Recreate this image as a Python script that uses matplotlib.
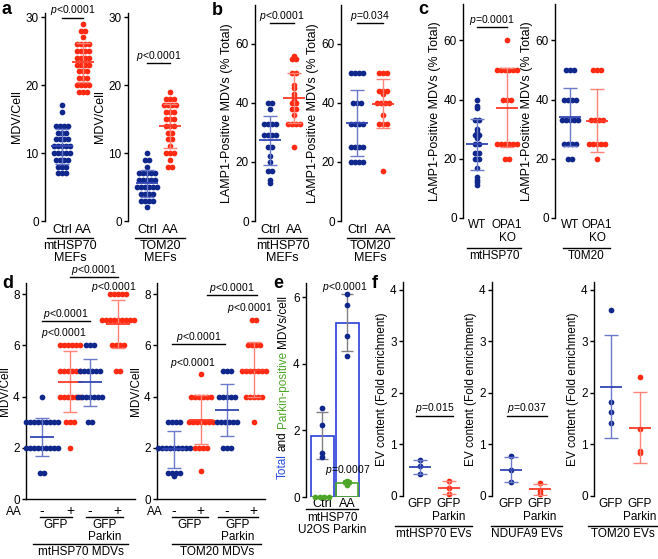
import matplotlib
matplotlib.use('Agg')
import matplotlib.pyplot as plt
import numpy as np
from matplotlib.transforms import offset_copy

plt.rcParams['font.family'] = ['Liberation Sans', 'DejaVu Sans']
plt.rcParams['font.size'] = 8
plt.rcParams['mathtext.fontset'] = 'custom'
plt.rcParams['mathtext.rm'] = 'Liberation Sans'
plt.rcParams['mathtext.it'] = 'Liberation Sans:italic'
plt.rcParams['axes.linewidth'] = 1.0

# ---- data ----
# a: MDV/Cell
a1_ctrl = [7, 7, 7, 8, 8, 8, 9, 9, 9, 9, 10, 10, 10, 10, 10, 11, 11, 11, 11, 11,
           12, 12, 12, 12, 13, 13, 13, 14, 14, 14, 14, 16, 17]
a1_aa = [19, 19, 19, 20, 20, 20, 20, 21, 21, 21, 22, 22, 22, 23, 23, 23, 23, 24, 24,
         24, 24, 25, 25, 25, 25, 26, 26, 26, 26, 27, 28, 28, 29]
a2_ctrl = [2, 3, 3, 3, 3, 4, 4, 4, 4, 5, 5, 5, 5, 5, 5, 6, 6, 6, 6, 6, 7, 7, 7, 7, 7,
           8, 9, 9, 10]
a2_aa = [8, 8, 9, 10, 10, 10, 11, 12, 12, 13, 13, 14, 14, 14, 15, 15, 15, 16, 16, 16,
         17, 17, 17, 17, 18, 18, 18, 19]
# b: LAMP1-positive MDVs (% total)
b1_ctrl = [13, 14, 17, 17, 20, 22, 25, 25, 29, 29, 29, 29, 33, 33, 33, 33, 38, 40, 40]
b1_aa = [25, 33, 33, 33, 33, 36, 38, 38, 40, 40, 41, 42, 43, 45, 46, 50, 50, 55, 55, 56]
b2_ctrl = [20, 20, 20, 20, 25, 25, 25, 25, 33, 33, 33, 33, 40, 40, 40, 50, 50, 50, 50]
b2_aa = [17, 33, 33, 33, 36, 40, 40, 40, 40, 43, 44, 44, 44, 50, 50, 50]
# c: WT vs OPA1 KO
c1_wt = [11, 12, 13, 14, 17, 20, 20, 22, 22, 25, 25, 27, 28, 28, 29, 30, 33, 33, 37, 38, 40]
c1_ko = [20, 20, 25, 25, 25, 25, 25, 25, 40, 40, 40, 50, 50, 50, 50, 50, 50, 60]
c2_wt = [20, 20, 25, 25, 25, 25, 33, 33, 33, 33, 33, 40, 40, 40, 40, 50, 50, 50]
c2_ko = [20, 25, 25, 25, 25, 25, 33, 33, 33, 33, 50, 50, 50]
# d: GFP / GFP Parkin, -AA / +AA
d1_groups = [
    [1, 1, 2, 2, 2, 2, 2, 2, 2, 2, 2, 3, 3, 3, 3, 3, 3, 3, 3, 3, 4],
    [2, 3, 3, 3, 4, 4, 4, 4, 4, 4, 5, 5, 5, 5, 5, 5, 6, 6, 6, 6, 6, 6],
    [3, 3, 4, 4, 4, 4, 4, 4, 4, 5, 5, 5, 5, 5, 5, 6, 6, 6],
    [5, 5, 6, 6, 6, 6, 7, 7, 7, 7, 7, 7, 7, 7, 7, 8, 8, 8, 8, 8],
]
d2_groups = [
    [0.9, 1, 1, 1, 1, 2, 2, 2, 2, 2, 2, 2, 2, 2, 3, 3, 3, 3],
    [1.1, 2, 2, 2, 2, 3, 3, 3, 3, 3, 3, 3, 4, 4, 4, 4, 4, 4, 4.9],
    [2, 2, 2, 3, 3, 3, 3, 3, 3, 4, 4, 4, 4, 4, 5, 5, 5],
    [3, 4, 4, 4, 4, 4, 5, 5, 5, 5, 5, 5, 5, 6, 6, 6, 6, 7, 7],
]
d_ticks = ['-', '+', '-', '+']
# e: total and Parkin-positive MDVs/cell
e_labels = ['Ctrl', 'AA']
e_total = [[2.68, 2.15, 1.33, 1.21], [6.09, 5.76, 4.83, 4.23]]
e_parkin = [[0, 0, 0, 0], [0.37, 0.45, 0.47, 0.45]]
# f: EV content (fold enrichment)
f_labels = ['GFP', 'GFP\nParkin']
f1_gfp, f1_park = [0.43, 0.58, 0.7], [0.04, 0.15, 0.3]
f2_gfp, f2_park = [0.27, 0.5, 0.77], [0.03, 0.1, 0.25]
f3_gfp, f3_park = [1.42, 1.62, 1.83, 3.6], [0.83, 0.87, 1.3, 2.3]

W, H = 658, 559
BLUE, RED = '#10288c', '#ff2a12'
BLUE_M, RED_M = '#3345b4', '#ff3a28'
BLUE_SD, RED_SD = '#6c7acb', '#ff8478'
GREEN = '#4da628'
LAB = 9      # category / group labels
PFS = 7.5    # p-values

fig = plt.figure(figsize=(W / 100, H / 100), dpi=100)


def make_ax(spine, first, step, right, top, bottom, ymax, yticks, xaxis=False):
    ax = fig.add_axes([spine / W, 1 - bottom / H, (right - spine) / W, (bottom - top) / H])
    ax.set_xlim((spine - first) / step, (right - first) / step)
    ax.set_ylim(0, ymax)
    ax.set_yticks(yticks)
    ax.spines['top'].set_visible(False)
    ax.spines['right'].set_visible(False)
    ax.spines['bottom'].set_visible(xaxis)
    ax.tick_params(axis='y', length=3, width=1, pad=1.5, labelsize=8.5)
    ax.tick_params(axis='x', length=0, labelsize=LAB)
    ax.patch.set_alpha(0)
    ax._px = step
    return ax


def swarm(ax, x0, vals, color, dx=4.0):
    vals = np.asarray(vals, float)
    xs = np.full(len(vals), float(x0))
    for v in np.unique(vals):
        idx = np.flatnonzero(vals == v)
        xs[idx] += (np.arange(len(idx)) - (len(idx) - 1) / 2) * dx / ax._px
    ax.scatter(xs, vals, s=17, color=color, lw=0, zorder=3, clip_on=False)


def meansd(ax, x0, vals, mcol, sdcol, half=11, cap=7):
    m, sd = np.mean(vals), np.std(vals, ddof=1)
    w, c = half / ax._px, cap / ax._px
    ax.vlines(x0, m - sd, m + sd, color=sdcol, lw=1, zorder=4)
    ax.hlines([m - sd, m + sd], x0 - c, x0 + c, color=sdcol, lw=1, zorder=4)
    ax.hlines(m, x0 - w, x0 + w, color=mcol, lw=1.3, zorder=5)


def pair(ax, a, b, pos=(0, 1)):
    swarm(ax, pos[0], a, BLUE)
    swarm(ax, pos[1], b, RED)
    meansd(ax, pos[0], a, BLUE_M, BLUE_SD)
    meansd(ax, pos[1], b, RED_M, RED_SD)


def pbar(ax, x0, x1, y, txt):
    ax.plot([x0, x1], [y, y], color='k', lw=1, clip_on=False)
    ax.annotate(txt, ((x0 + x1) / 2, y), xytext=(0, 0.3), textcoords='offset points',
                ha='center', va='bottom', fontsize=PFS, annotation_clip=False)


def ptxt(ax, x, y, txt):
    ax.text(x, y, txt, ha='center', va='center', fontsize=PFS, clip_on=False)


def under(ax, x0, x1, dy, label=None, ly=None, size=LAB):
    tr = offset_copy(ax.get_xaxis_transform(), fig=fig, y=-dy, units='dots')
    ax.plot([x0, x1], [0, 0], transform=tr, color='k', lw=1, clip_on=False)
    if label:
        tr2 = offset_copy(ax.get_xaxis_transform(), fig=fig, y=-ly, units='dots')
        ax.text((x0 + x1) / 2, 0, label, transform=tr2, ha='center', va='top',
                linespacing=1.05, fontsize=size)


def ylab(ax, txt, size=9):
    ax.set_ylabel(txt, fontsize=size, labelpad=1.5)


def letter(ch, x, y):
    fig.text(x / W, 1 - y / H, ch, fontsize=13, fontweight='bold', va='baseline')


P4 = '$p$<0.0001'

# ---- panel a ----
a1 = make_ax(45, 62, 21, 97, 13, 221, 30.6, [0, 10, 20, 30])
a2 = make_ax(128, 147, 23, 182, 13, 221, 30.6, [0, 10, 20, 30])
for ax, (c, t), grp, lx in [(a1, (a1_ctrl, a1_aa), 'mtHSP70\nMEFs', (-0.71, 1.48)),
                            (a2, (a2_ctrl, a2_aa), 'TOM20\nMEFs', (-0.52, 1.65))]:
    pair(ax, c, t)
    ax.set_xticks([0, 1], ['Ctrl', 'AA'])
    ax.tick_params(axis='x', pad=2)
    under(ax, lx[0], lx[1], 17, grp, 19)
    ylab(ax, 'MDV/Cell')
pbar(a1, 0, 1, 29.9, P4)
pbar(a2, 0, 1, 23.2, P4)

# ---- panel b ----
b1 = make_ax(255, 270, 24, 308, 5, 221, 73.2, [0, 20, 40, 60])
b2 = make_ax(341, 357, 26, 398, 5, 221, 73.2, [0, 20, 40, 60])
for ax, (c, t), grp, lx in [(b1, (b1_ctrl, b1_aa), 'mtHSP70\nMEFs', (-0.5, 1.54)),
                            (b2, (b2_ctrl, b2_aa), 'TOM20\nMEFs', (-0.38, 1.42))]:
    pair(ax, c, t)
    ax.set_xticks([0, 1], ['Ctrl', 'AA'])
    ax.tick_params(axis='x', pad=2)
    under(ax, lx[0], lx[1], 17, grp, 19)
    ylab(ax, 'LAMP1-Positive MDVs (% Total)')
pbar(b1, 0, 1, 67, P4)
pbar(b2, 0, 1, 67, '$p$=0.034')

# ---- panel c ----
c1 = make_ax(463, 477, 30, 522, 4, 218, 72.3, [0, 20, 40, 60])
c2 = make_ax(555, 570, 27, 614, 4, 218, 72.3, [0, 20, 40, 60])
for ax, (w, k), grp, lx in [(c1, (c1_wt, c1_ko), 'mtHSP70', (-0.33, 1.47)),
                            (c2, (c2_wt, c2_ko), 'T0M20', (-0.26, 1.48))]:
    pair(ax, w, k)
    ax.set_xticks([0, 1], ['WT', 'OPA1\nKO'])
    ax.tick_params(axis='x', pad=1, labelsize=8.5)
    for lbl in ax.get_xticklabels():
        lbl.set_linespacing(1.05)
    under(ax, lx[0], lx[1], 30, grp, 32, size=8.5)
    ylab(ax, 'LAMP1-Positive MDVs (% Total)')
pbar(c1, 0, 1, 64.4, '$p$=0.0001')

# ---- panel d ----
d1 = make_ax(26, 42, 28, 135, 283, 499, 8.44, [0, 2, 4, 6, 8], xaxis=True)
d2 = make_ax(157, 174, 26.5, 265, 283, 499, 8.44, [0, 2, 4, 6, 8], xaxis=True)
d1_pos = [0, 1, 1.7, 2.7]
d2_pos = [0, 1, 2, 3]
for ax, groups, pos in [(d1, d1_groups, d1_pos), (d2, d2_groups, d2_pos)]:
    for i, vals in enumerate(groups):
        col = BLUE if i % 2 == 0 else RED
        swarm(ax, pos[i], vals, col)
        if i % 2 == 0:
            meansd(ax, pos[i], vals, BLUE_M, BLUE_SD, half=12)
        else:
            meansd(ax, pos[i], vals, RED_M, RED_SD, half=12)
    ax.set_xticks(pos, d_ticks)
    ax.tick_params(axis='x', pad=3.5, labelsize=10)
    ylab(ax, 'MDV/Cell', 8.5)
under(d1, -0.07, 1.07, 18, 'GFP', 20, 8.5)
under(d1, 1.57, 2.89, 18, 'GFP\nParkin', 20, 8.5)
under(d1, -0.32, 3.07, 45, 'mtHSP70 MDVs', 47, 8.5)
under(d2, -0.09, 1.28, 18, 'GFP', 20, 8.5)
under(d2, 1.66, 3.17, 18, 'GFP\nParkin', 20, 8.5)
under(d2, -0.08, 3.3, 45, 'TOM20 MDVs', 47, 8.5)
for ax, xa in [(d1, -0.72), (d2, -0.42)]:
    tr = offset_copy(ax.get_xaxis_transform(), fig=fig, y=-7, units='dots')
    ax.text(xa, 0, 'AA', transform=tr, ha='right', va='top', fontsize=8.5)
pbar(d1, 1, 2.7, 8.67, P4)
ptxt(d1, 2.55, 8.28, P4)
pbar(d1, 0, 1.7, 6.95, P4)
ptxt(d1, 0.79, 6.48, P4)
pbar(d2, 1.25, 3.13, 7.97, P4)
ptxt(d2, 2.87, 7.46, P4)
pbar(d2, -0.08, 1.92, 6.05, P4)
ptxt(d2, 0.72, 5.31, P4)

# ---- panel e ----
e = make_ax(306, 322, 25, 365, 283, 497, 6.42, [0, 2, 4, 6])
xs = np.arange(len(e_labels))
tot_m = [np.mean(v) for v in e_total]
tot_sd = [np.std(v, ddof=1) for v in e_total]
par_m = [np.mean(v) for v in e_parkin]
par_sd = [np.std(v, ddof=1) for v in e_parkin]
e.bar(xs, tot_m, width=0.92, fill=False, edgecolor='#2a3ed8', lw=1.2, zorder=2)
e.bar(xs, par_m, width=0.85, fill=False, edgecolor=GREEN, lw=1.2, zorder=2)
e.errorbar(xs, tot_m, yerr=tot_sd, fmt='none', ecolor='#808080', elinewidth=1,
           capsize=4, capthick=1, zorder=3)
e.errorbar(xs[1:], par_m[1:], yerr=par_sd[1:], fmt='none', ecolor='#808080',
           elinewidth=1, capsize=3, capthick=1, zorder=3)
for i in xs:
    swarm(e, i, e_total[i], BLUE)
    swarm(e, i, e_parkin[i], GREEN, dx=4.5)
e.set_xticks(xs, e_labels)
e.tick_params(axis='x', pad=1)
under(e, -0.64, 1.44, 12, 'mtHSP70\nU2OS Parkin', 15, 8.5)
ptxt(e, 0.92, 6.3, P4)
ptxt(e, 1.04, 0.81, '$p$=0.0007')

# multi-coloured y label for e
parts = [('Total', '#2a4de0'), ('and', 'k'), ('Parkin-positive', GREEN), ('MDVs/cell', 'k')]
r = fig.canvas.get_renderer()
texts, sizes = [], []
for s, col in parts:
    t = fig.text(0, 0, s, rotation=90, color=col, ha='center', va='bottom', fontsize=8.5)
    sizes.append(t.get_window_extent(r).height)
    texts.append(t)
gap = 3.3
total = sum(sizes) + gap * (len(parts) - 1)
y = (H - 387) - total / 2
for t, h in zip(texts, sizes):
    t.set_position((283 / W, y / H))
    y += h + gap

# ---- panel f ----
f1 = make_ax(403, 420, 29, 462, 282, 496, 4.15, [0, 1, 2, 3, 4])
f2 = make_ax(492, 511, 29, 553, 282, 496, 4.15, [0, 1, 2, 3, 4])
f3 = make_ax(594, 611, 29, 655, 282, 496, 4.15, [0, 1, 2, 3, 4])
for ax, (g, p), grp, lx in [
        (f1, (f1_gfp, f1_park), 'mtHSP70 EVs', (-0.86, 1.79)),
        (f2, (f2_gfp, f2_park), 'NDUFA9 EVs', (-0.69, 1.76)),
        (f3, (f3_gfp, f3_park), 'TOM20 EVs', (-0.79, 1.62))]:
    pair(ax, g, p)
    ax.set_xticks([0, 1], f_labels)
    ax.tick_params(axis='x', pad=1.5, labelsize=8.5)
    for lbl in ax.get_xticklabels():
        lbl.set_linespacing(1.05)
    under(ax, lx[0], lx[1], 30, grp, 32, 8.5)
    ylab(ax, 'EV content (Fold enrichment)', 8.5)
pbar(f1, -0.14, 1.14, 1.56, '$p$=0.015')
pbar(f2, -0.14, 1.24, 1.56, '$p$=0.037')

for ch, x, y in [('a', 2, 14), ('b', 212, 15), ('c', 418, 14),
                 ('d', 2, 288), ('e', 273, 288), ('f', 372, 288)]:
    letter(ch, x, y)

fig.savefig('out.png', dpi=100)
